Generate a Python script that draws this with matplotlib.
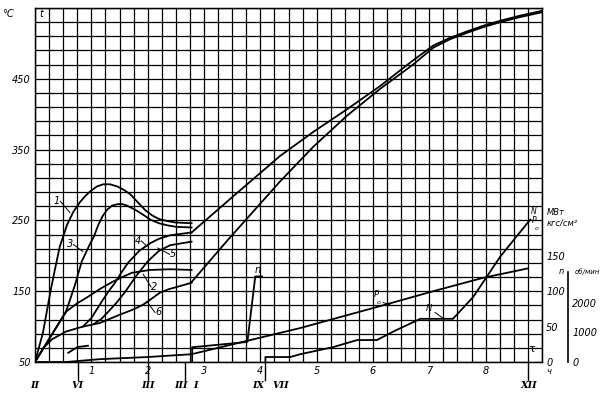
import numpy as np
import matplotlib.pyplot as plt

# temperature curves, deg C vs hours
c1_x = [0, 0.14, 0.28, 0.36, 0.44, 0.57, 0.68, 0.80, 0.90, 0.98, 1.10, 1.21, 1.33, 1.46, 1.58,
        1.69, 1.82, 1.95, 2.08, 2.2, 2.35, 2.5, 2.78]
c1_y = [50, 91, 152, 183, 213, 244, 262, 276, 285, 291, 298, 301, 301, 298, 293,
        287, 276, 265, 257, 252, 249, 247, 246]
c3_x = [0, 0.27, 0.55, 0.71, 0.83, 0.96, 1.05, 1.12, 1.20, 1.28, 1.37, 1.47, 1.55, 1.63, 1.78,
        1.92, 2.05, 2.2, 2.35, 2.5, 2.78]
c3_y = [50, 85, 121, 159, 192, 214, 228, 243, 256, 265, 271, 273, 273, 271, 265,
        258, 251, 246, 243, 241, 240]
c2_x = [0, 0.27, 0.55, 0.75, 0.94, 1.15, 1.37, 1.55, 1.72, 2.04, 2.4, 2.78]
c2_y = [50, 85, 121, 133, 142, 153, 163, 170, 176, 180, 181, 180]
c6_x = [0, 0.15, 0.30, 0.55, 0.85, 1.15, 1.51, 1.74, 1.92, 2.08, 2.22, 2.38, 2.52, 2.78]
c6_y = [50, 70, 82, 93, 100, 105, 117, 124, 131, 140, 148, 153, 156, 162]
c4_x = [0.85, 1.0, 1.19, 1.30, 1.42, 1.54, 1.65, 1.85, 2.05, 2.2, 2.4, 2.78]
c4_y = [100, 112, 136, 149, 162, 177, 190, 207, 218, 224, 229, 233]
c5_x = [1.05, 1.18, 1.3, 1.45, 1.6, 1.8, 2.0, 2.2, 2.4, 2.78]
c5_y = [104, 111, 121, 134, 149, 172, 192, 207, 215, 220]
a_x = [2.78, 3.46, 4.35, 4.94, 5.54, 6.13, 6.71, 7.07, 7.37, 7.67, 7.96, 8.26, 8.6, 9.0]
a_y = [233, 280, 341, 375, 407, 440, 476, 497, 508, 517, 525, 532, 539, 546]
b_x = [2.78, 3.43, 4.35, 4.94, 5.54, 6.13, 6.71, 7.07, 7.37, 7.67, 7.96, 8.26, 8.6, 9.0]
b_y = [163, 223, 305, 354, 398, 436, 470, 494, 506, 515, 523, 530, 537, 544]
hook_x = [0.59, 0.75, 0.94]
hook_y = [63, 71, 73]

# power N (MW) and pressure P0 (kgf/cm2)
p0_x = [0, 0.55, 1.15, 2.0, 2.78, 3.77, 4.71, 6.13, 7.07, 7.96, 8.74]
p0_y = [0, 0, 4, 7, 11, 30, 48, 79, 100, 119, 132]
N_x = [4.09, 4.09, 4.53, 4.71, 5.29, 5.72, 6.07, 6.36, 6.84, 7.42, 7.78, 8.26, 8.79]
N_y = [0, 7, 7, 11, 21, 31, 31, 43, 61, 61, 92, 149, 201]
# speed n, rpm
n_x = [2.79, 2.79, 3.77, 3.91, 4.03]
n_y = [0, 500, 680, 2900, 2900]

# events
ev_x = [0, 0.76, 2.0, 2.6, 2.84, 3.96, 4.36, 8.76]
ev_lab = ['II', 'VI', 'III', 'III', 'I', 'IX', 'VII', 'XII']
ev_line = [0.76, 2.0, 2.66, 4.08, 8.76]

fig = plt.figure(figsize=(6.04, 3.97), dpi=100)
ax = fig.add_axes([35/604, 35/397, 507/604, 354/397])
ax.set_xlim(0, 9)
ax.set_ylim(50, 550)
ax.set_xticks(np.arange(0, 9.01, 0.25), minor=True)
ax.set_yticks(np.arange(50, 551, 20), minor=True)
ax.set_xticks(range(1, 9))
ax.set_xticklabels([str(i) for i in range(1, 9)], fontstyle='italic', fontsize=7)
ax.set_yticks([50, 150, 250, 350, 450])
ax.set_yticklabels(['50', '150', '250', '350', '450'], fontstyle='italic', fontsize=7)
ax.tick_params(which='both', length=0, pad=3)
ax.grid(which='both', color='black', lw=0.9)
for s in ax.spines.values():
    s.set_linewidth(1.0)

kw = dict(color='black', lw=1.3)
for xs, ys in [(c1_x, c1_y), (c3_x, c3_y), (c2_x, c2_y), (c6_x, c6_y),
               (c4_x, c4_y), (c5_x, c5_y), (a_x, a_y), (b_x, b_y), (hook_x, hook_y)]:
    ax.plot(xs, ys, **kw)

# curve labels with leaders
labs = [('1', 0.39, 277, 0.62, 261), ('3', 0.62, 216, 0.85, 206),
        ('4', 1.83, 221, 1.99, 213), ('5', 2.45, 202, 2.18, 211),
        ('2', 2.12, 156, 1.92, 174), ('6', 2.19, 120, 1.99, 135)]
for t, tx, ty, lx, ly in labs:
    ax.text(tx, ty, t, fontsize=7, fontstyle='italic', ha='center', va='center')
    ax.plot([tx + (0.06 if lx > tx else -0.06), lx], [ty, ly], color='black', lw=0.7)

ax.text(-0.48, 548, '°C', fontsize=7, fontstyle='italic', va='top', ha='center')
ax.text(0.07, 548, 't', fontsize=7, fontstyle='italic', va='top')

# right axis: N, P0
axN = ax.twinx()
axN.set_ylim(0, 500)
axN.set_yticks([0, 50, 100, 150])
axN.set_yticklabels(['0', '50', '100', '150'], fontstyle='italic', fontsize=7)
axN.tick_params(length=0, pad=3)
axN.plot(p0_x, p0_y, **kw)
axN.plot(N_x, N_y, **kw)
axN.text(7.0, 72, 'N', fontsize=6, fontstyle='italic', ha='center')
axN.plot([7.1, 7.24], [70, 62], color='black', lw=0.7)
axN.text(6.05, 92, 'P', fontsize=6, fontstyle='italic', ha='center')
axN.text(6.1, 82, 'o', fontsize=4.5, fontstyle='italic', ha='center')
axN.plot([6.18, 6.3], [84, 81], color='black', lw=0.7)
axN.text(8.86, 209, 'N', fontsize=5.5, fontstyle='italic', ha='center')
axN.text(8.86, 196, 'P', fontsize=5.5, fontstyle='italic', ha='center')
axN.text(8.9, 187, 'o', fontsize=4.5, fontstyle='italic', ha='center')
axN.text(9.08, 207, 'МВт', fontsize=6, fontstyle='italic')
axN.text(9.08, 193, 'кгс/см²', fontsize=6, fontstyle='italic')
axN.text(8.82, 14, 'τ', fontsize=8, ha='center')

# n axis
axn = ax.twinx()
axn.set_ylim(0, 12000)
axn.spines['right'].set_position(('axes', 1.051))
axn.spines['right'].set_bounds(0, 3050)
axn.spines['right'].set_linewidth(1.2)
for s in ['top', 'left', 'bottom']:
    axn.spines[s].set_visible(False)
axn.set_yticks([0, 1000, 2000])
axn.set_yticklabels(['0', '1000', '2000'], fontstyle='italic', fontsize=7)
axn.tick_params(length=0, pad=3)
axn.plot(n_x, n_y, **kw)
axn.text(3.96, 3020, 'n', fontsize=7, fontstyle='italic', ha='center')
axn.text(9.35, 2980, 'n', fontsize=6, fontstyle='italic', ha='center', clip_on=False)
axn.text(9.58, 2980, 'об/мин', fontsize=5, fontstyle='italic', clip_on=False)

# events under the time axis
tr = ax.get_xaxis_transform()
for x in ev_line:
    ax.plot([x, x], [0, -0.05], transform=tr, color='black', lw=1.0, clip_on=False)
for x, t in zip(ev_x, ev_lab):
    ax.text(x, -0.055, t, transform=tr, fontsize=7, fontstyle='italic', fontweight='bold',
            family='DejaVu Serif', ha='center', va='top')
ax.text(9.08, -0.015, 'ч', transform=tr, fontsize=6, fontstyle='italic', va='top')

fig.savefig('out.png', dpi=100)
